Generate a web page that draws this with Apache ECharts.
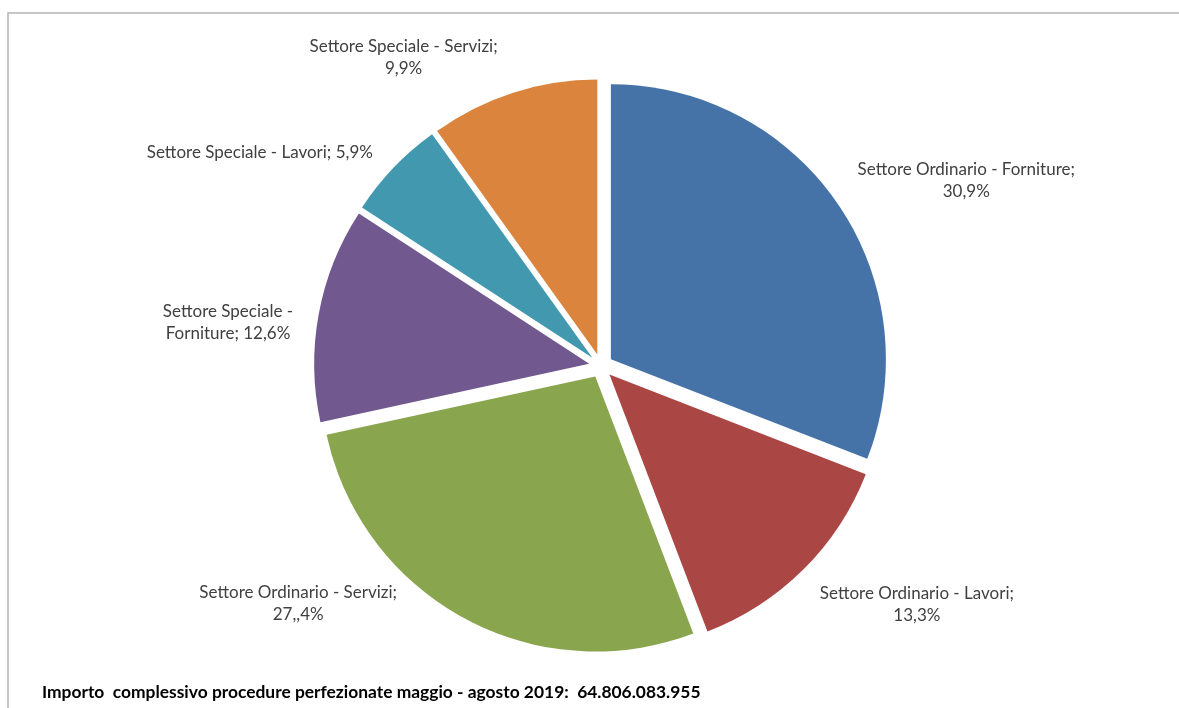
<!DOCTYPE html>
<html>
<head>
<meta charset="utf-8">
<script src="https://cdn.jsdelivr.net/npm/echarts@6/dist/echarts.min.js"></script>
<style>
html,body{margin:0;padding:0;background:#fff;}
#chart{width:1179px;height:708px;}
</style>
</head>
<body>
<div id="chart"></div>
<script>
// ---- data ----
var categories = [
  'Settore Ordinario - Forniture',
  'Settore Ordinario - Lavori',
  'Settore Ordinario - Servizi',
  'Settore Speciale - Forniture',
  'Settore Speciale - Lavori',
  'Settore Speciale - Servizi'
];
var values = [30.9, 13.3, 27.4, 12.6, 5.9, 9.9];
var percentLabels = ['30,9%', '13,3%', '27,,4%', '12,6%', '5,9%', '9,9%'];
var labelTexts = [
  'Settore Ordinario - Forniture;\n30,9%',
  'Settore Ordinario - Lavori;\n13,3%',
  'Settore Ordinario - Servizi;\n27,,4%',
  'Settore Speciale -\nForniture; 12,6%',
  'Settore Speciale - Lavori; 5,9%',
  'Settore Speciale - Servizi;\n9,9%'
];
var footerText = 'Importo  complessivo procedure perfezionate maggio - agosto 2019:  64.806.083.955';

// ---- style ----
var colors = ['#4572A7', '#AA4643', '#89A54E', '#71588F', '#4198AF', '#DB843D'];
var CX = 601, CY = 366, R = 275, EXPLODE = 12;
// per-label fine nudges (px) relative to the library's outside label position (styling only)
var labelNudge = [[81, -15], [68, 24], [-124, -28], [-41, 11], [-88, -5], [-70, -21]];
var FONT = 'Lato';

var chart = echarts.init(document.getElementById('chart'), null, { renderer: 'canvas' });
chart.setOption({
  animation: false,
  backgroundColor: '#ffffff',
  title: {
    text: footerText,
    left: 37,
    top: 679,
    textStyle: { fontFamily: FONT, fontWeight: 'bold', fontSize: 17.4, color: '#000000' }
  },
  graphic: [{
    type: 'polyline',
    shape: { points: [[8, 710], [8, 13], [1181, 13]] },
    style: { stroke: '#b4b4b4', lineWidth: 1.5, fill: null },
    silent: true
  }],
  series: [{
    type: 'pie',
    center: [CX, CY],
    radius: R,
    startAngle: 90,
    clockwise: true,
    selectedMode: 'multiple',
    selectedOffset: EXPLODE,
    avoidLabelOverlap: false,
    silent: true,
    itemStyle: { borderWidth: 0 },
    select: { itemStyle: { borderWidth: 0 }, label: { show: true } },
    emphasis: { disabled: true },
    labelLine: { show: false },
    label: {
      show: true,
      position: 'outside',
      fontFamily: FONT,
      fontSize: 17,
      lineHeight: 22,
      color: '#404040',
      formatter: function (p) {
        return labelTexts[p.dataIndex].split('\n').map(function (l) { return '{c|' + l + '}'; }).join('\n');
      },
      rich: { c: { align: 'center', fontFamily: FONT, fontSize: 17, lineHeight: 22, color: '#404040' } }
    },
    labelLayout: function (p) {
      var i = p.dataIndex;
      return {
        dx: labelNudge[i][0],
        dy: labelNudge[i][1],
        align: 'center',
        verticalAlign: 'middle'
      };
    },
    data: categories.map(function (c, i) {
      return { name: c, value: values[i], selected: true, itemStyle: { color: colors[i] } };
    })
  }]
});
</script>
</body>
</html>
